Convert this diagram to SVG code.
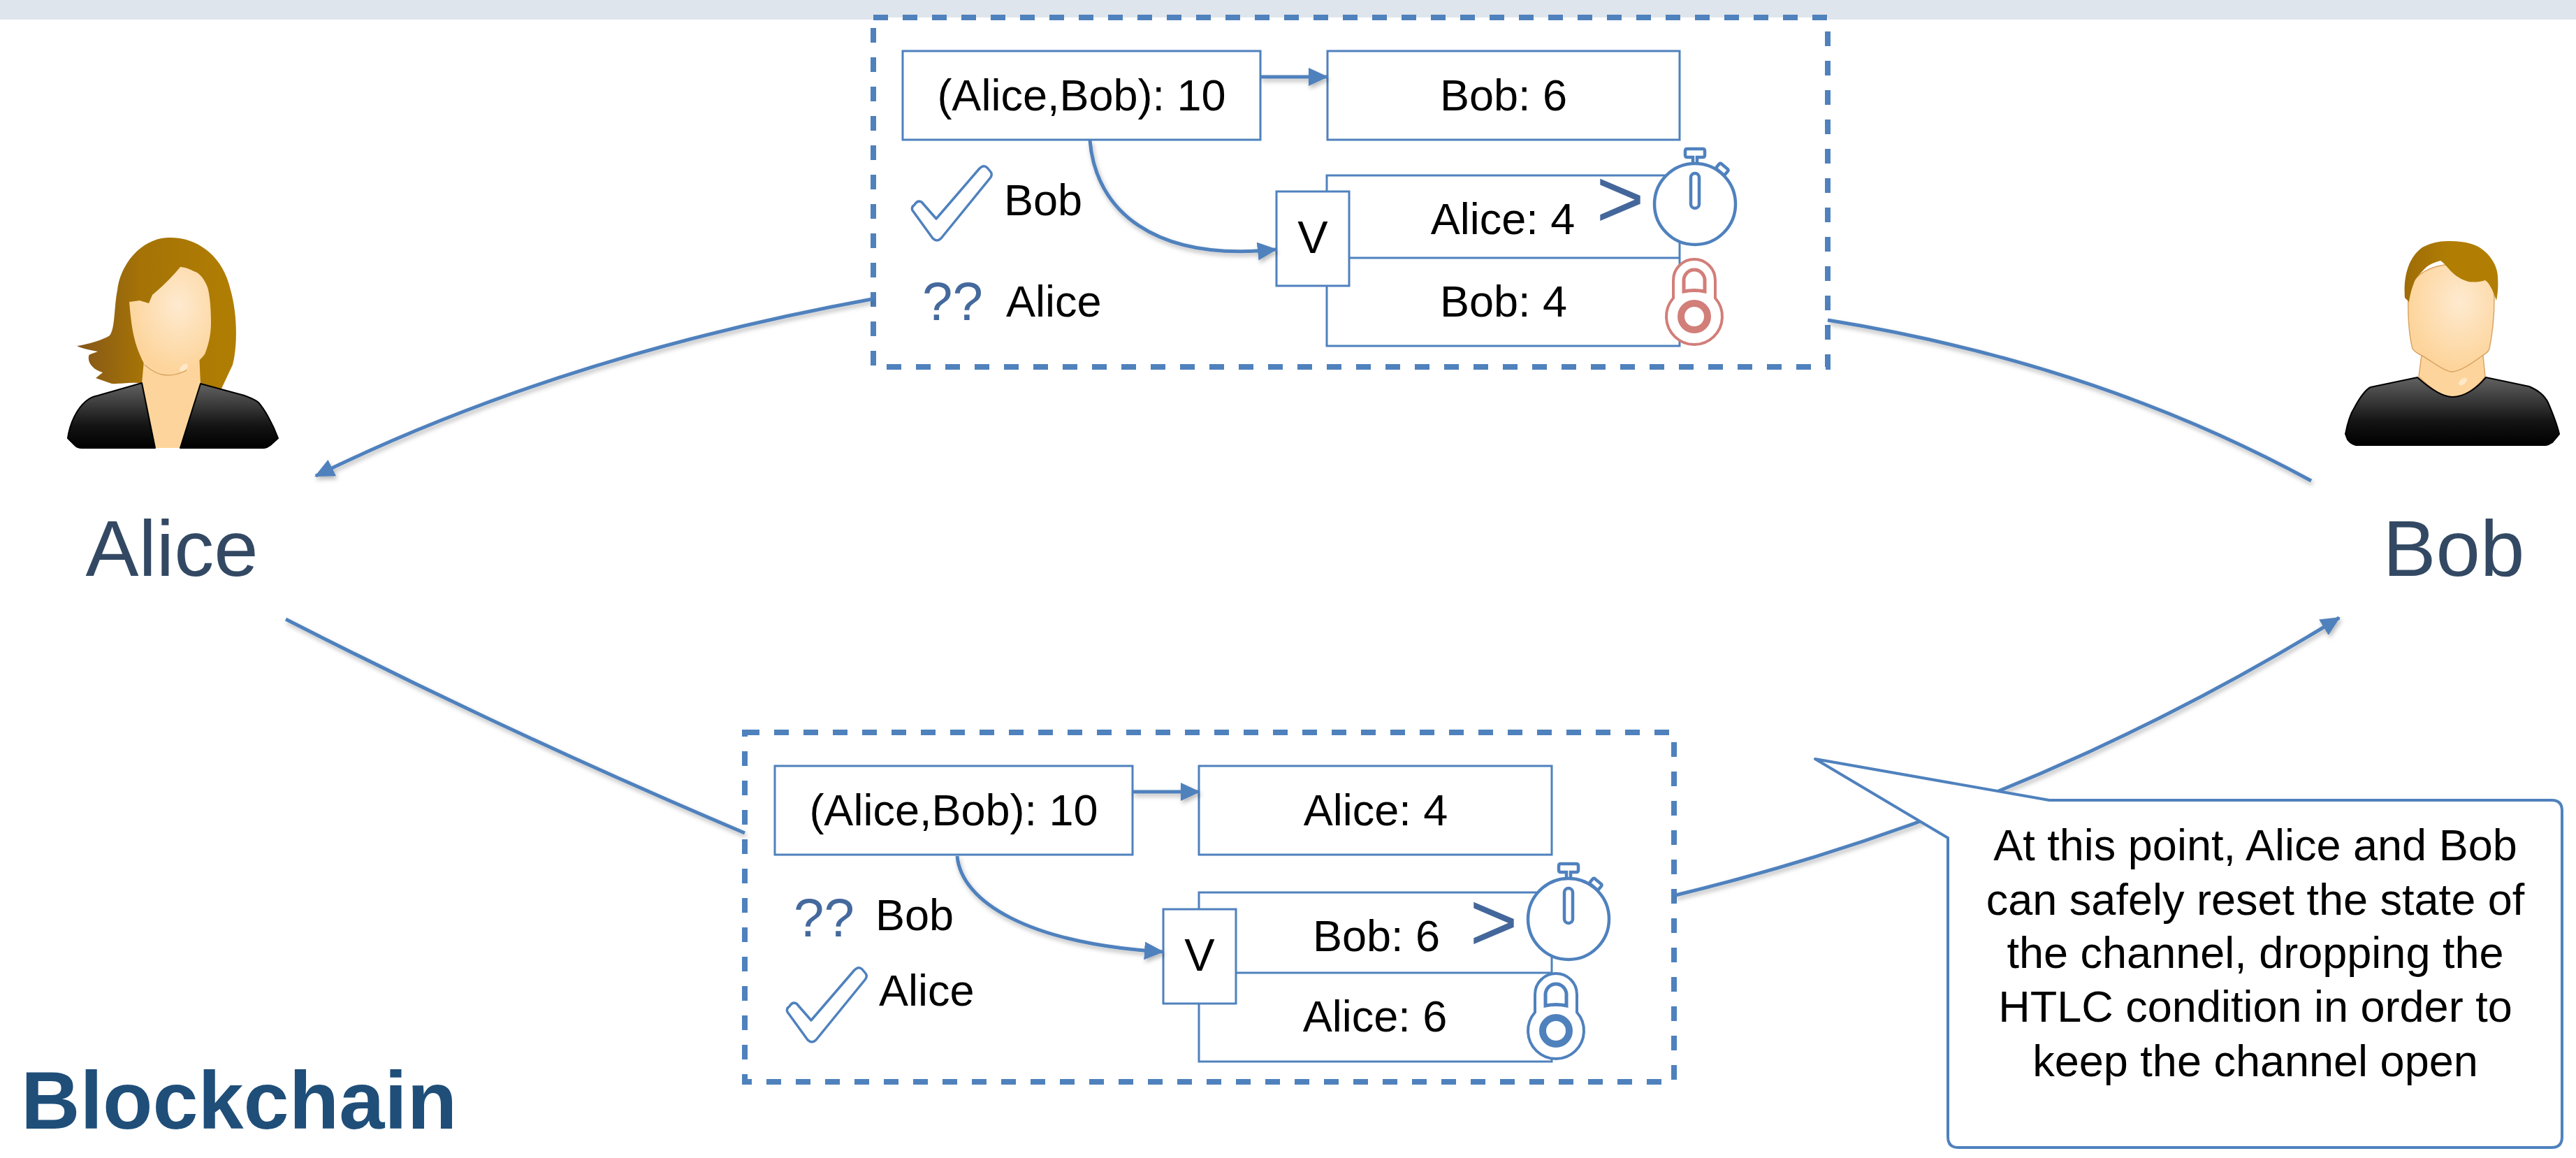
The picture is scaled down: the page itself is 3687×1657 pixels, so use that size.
<svg xmlns="http://www.w3.org/2000/svg" width="3687" height="1657" viewBox="0 0 3687 1657">
  <style>
    text { font-family: "Liberation Sans", Arial, Helvetica, sans-serif; }
    .cell { fill: #ffffff; stroke: #4f81bd; stroke-width: 3; }
    .frame { fill: #ffffff; stroke: #4f81bd; stroke-width: 8; stroke-dasharray: 21 21; }
    .lbl { font-size: 63px; fill: #000000; text-anchor: middle; }
    .side { font-size: 63px; fill: #000000; }
    .qq { font-size: 78px; fill: #44699c; }
    .gt { font-size: 118px; fill: #44679b; text-anchor: middle; }
    .vee { font-size: 65px; fill: #000000; text-anchor: middle; }
    .who { font-size: 114px; fill: #334963; text-anchor: middle; }
    .conn { fill: none; stroke: #4f81bd; stroke-width: 5; }
    .check { fill: #ffffff; stroke: #4f81bd; stroke-width: 3.5; stroke-linejoin: round; }
    .note { font-size: 63px; fill: #000000; text-anchor: middle; }
  </style>
  <defs>
    <marker id="ah" markerUnits="userSpaceOnUse" markerWidth="32" markerHeight="28" refX="26" refY="13" orient="auto">
      <path d="M0,0 L28,13 L0,26 Z" fill="#4f81bd"/>
    </marker>
    <filter id="shadow" filterUnits="userSpaceOnUse" x="0" y="0" width="3687" height="1657">
      <feDropShadow dx="2" dy="4" stdDeviation="3" flood-color="#000000" flood-opacity="0.28"/>
    </filter>
    <linearGradient id="suit" x1="0" y1="0" x2="0" y2="1">
      <stop offset="0" stop-color="#626262"/>
      <stop offset="0.65" stop-color="#141414"/>
      <stop offset="1" stop-color="#000000"/>
    </linearGradient>
    <radialGradient id="skin" cx="0.6" cy="0.35" r="0.6">
      <stop offset="0" stop-color="#feead0"/>
      <stop offset="1" stop-color="#fdd59c"/>
    </radialGradient>
    <linearGradient id="hairA" x1="0" y1="0" x2="1" y2="0">
      <stop offset="0" stop-color="#84561a"/>
      <stop offset="0.4" stop-color="#a57306"/>
      <stop offset="1" stop-color="#b17e03"/>
    </linearGradient>
    <linearGradient id="hairB" x1="0" y1="0" x2="1" y2="0">
      <stop offset="0" stop-color="#9e6c08"/>
      <stop offset="0.5" stop-color="#b17e03"/>
      <stop offset="1" stop-color="#b17e03"/>
    </linearGradient>
    <!-- stopwatch, centred on the dial -->
    <g id="watch" fill="#ffffff" stroke="#4f81bd" stroke-width="4.5">
      <rect x="-8" y="-5" width="16" height="10" rx="2" transform="translate(39,-50) rotate(40)"/>
      <path d="M-3,-56 V-67 H-11 Q-14,-67 -14,-70 V-76 Q-14,-79 -11,-79 H11 Q14,-79 14,-76 V-70 Q14,-67 11,-67 H3 V-56"/>
      <circle r="58"/>
      <rect x="-6" y="-44" width="12" height="50" rx="6"/>
    </g>
    <!-- padlock, centred on the body -->
    <g id="lock" fill="none">
      <path d="M-30,-26.5 V-52 A30,30 0 0 1 30,-52 V-26.5 A40,40 0 1 1 -30,-26.5 Z" fill="#ffffff" stroke-width="4"/>
      <path d="M-15,-36 V-52 A15,15 0 0 1 15,-52 V-36 Q0,-39 -15,-36 Z" stroke-width="5"/>
      <circle r="19" stroke-width="10"/>
    </g>
    <path id="tick" d="M1309,293 Q1313,286 1319,289 L1340,313 L1402,241 Q1408,235 1413,240 L1418,246 Q1421,250 1417,255 L1347,341 Q1341,347 1335,341 L1306,301 Q1304,296 1309,293 Z"/>
  </defs>

  <rect id="band" x="0" y="0" width="3687" height="28" fill="#dfe5ec"/>

  <!-- channel state published by Bob -->
  <g id="state-top">
    <rect class="frame" x="1250" y="25" width="1366" height="500"/>
    <rect class="cell" x="1292" y="73" width="512" height="127"/>
    <text class="lbl" x="1548" y="158">(Alice,Bob): 10</text>
    <rect class="cell" x="1900" y="73" width="504" height="127"/>
    <text class="lbl" x="2152" y="158">Bob: 6</text>
    <rect class="cell" x="1899" y="251" width="505" height="244"/>
    <line x1="1931" y1="369" x2="2404" y2="369" stroke="#4f81bd" stroke-width="3"/>
    <rect class="cell" x="1827" y="274" width="104" height="135"/>
    <text class="vee" x="1879" y="362">V</text>
    <text class="lbl" x="2151" y="335">Alice: 4</text>
    <text class="lbl" x="2152" y="453">Bob: 4</text>
    <text class="gt" x="2319" y="325">&gt;</text>
    <use href="#watch" x="2426" y="292"/>
    <use href="#lock" x="2425" y="453" stroke="#d27e79"/>
    <use href="#tick" class="check"/>
    <text class="side" x="1437" y="308">Bob</text>
    <text class="qq" x="1320" y="458">??</text>
    <text class="side" x="1440" y="453">Alice</text>
  </g>

  <!-- channel state published by Alice -->
  <g id="state-bottom">
    <rect class="frame" x="1066" y="1048" width="1330" height="500"/>
    <rect class="cell" x="1109" y="1096" width="512" height="127"/>
    <text class="lbl" x="1365" y="1181">(Alice,Bob): 10</text>
    <rect class="cell" x="1716" y="1096" width="505" height="127"/>
    <text class="lbl" x="1969" y="1181">Alice: 4</text>
    <rect class="cell" x="1716" y="1277" width="505" height="242"/>
    <line x1="1769" y1="1392" x2="2221" y2="1392" stroke="#4f81bd" stroke-width="3"/>
    <rect class="cell" x="1665" y="1301" width="104" height="135"/>
    <text class="vee" x="1717" y="1389">V</text>
    <text class="lbl" x="1970" y="1361">Bob: 6</text>
    <text class="lbl" x="1968" y="1476">Alice: 6</text>
    <text class="gt" x="2138" y="1360">&gt;</text>
    <use href="#watch" x="2245" y="1315"/>
    <use href="#lock" x="2227" y="1475" stroke="#4f81bd"/>
    <text class="qq" x="1136" y="1340">??</text>
    <text class="side" x="1253" y="1331">Bob</text>
    <use href="#tick" class="check" transform="translate(-179,1147)"/>
    <text class="side" x="1258" y="1439">Alice</text>
  </g>

  <!-- connectors -->
  <g id="connectors" filter="url(#shadow)">
    <path class="conn" d="M1804,110 H1899" marker-end="url(#ah)"/>
    <path class="conn" d="M1560,201 C1568,300 1650,375 1826,357" marker-end="url(#ah)"/>
    <path class="conn" d="M1621,1133 H1716" marker-end="url(#ah)"/>
    <path class="conn" d="M1370,1225 C1376,1290 1470,1350 1664,1362" marker-end="url(#ah)"/>
    <path class="conn" d="M1248,428 Q800,510 452,681" marker-end="url(#ah)"/>
    <path class="conn" d="M2616,458 Q3000,520 3308,688"/>
    <path class="conn" d="M409,886 Q730,1050 1066,1192"/>
    <path class="conn" d="M2398,1281 Q2900,1160 3348,884" marker-end="url(#ah)"/>
  </g>

  <!-- callout -->
  <g id="note">
    <path d="M2933,1145 H3652 Q3667,1145 3667,1160 V1627 Q3667,1642 3652,1642 H2803 Q2788,1642 2788,1627 V1199 L2598,1086 Z" fill="#ffffff" stroke="#4f81bd" stroke-width="4" stroke-linejoin="round"/>
    <text class="note" x="3228" y="1231">At this point, Alice and Bob</text>
    <text class="note" x="3228" y="1309">can safely reset the state of</text>
    <text class="note" x="3228" y="1385">the channel, dropping the</text>
    <text class="note" x="3228" y="1462">HTLC condition in order to</text>
    <text class="note" x="3228" y="1540">keep the channel open</text>
  </g>

  <!-- Alice -->
  <g id="alice">
    <path d="M240,340 C275,338 318,360 330,415 C340,450 340,495 333,522 L317,556 L203,549 C190,546 170,550 160,549 L137,541 L147,533 C135,530 125,520 127,510 C126,507 135,505 140,503 C125,500 115,498 110,495 C130,492 150,485 157,480 C165,470 163,440 168,415 C172,380 200,342 240,340 Z" fill="url(#hairA)"/>
    <path d="M207,505 L203,549 L222,641 L258,641 L287,549 L285,505 Z" fill="#fdd59c"/>
    <path d="M97,627 C100,605 110,585 123,574 C130,568 135,567 140,566 L203,548 L222,641 L117,641 C112,641 110,640 107,637 Z" fill="url(#suit)" stroke="#000000" stroke-width="2" stroke-linejoin="round"/>
    <path d="M258,641 L287,549 L350,566 C360,570 366,572 370,576 C378,585 390,605 398,627 L387,637 C383,640 380,641 377,641 Z" fill="url(#suit)" stroke="#000000" stroke-width="2" stroke-linejoin="round"/>
    <path d="M185,432 C188,465 190,490 207,522 C218,532 230,537 240,537 C255,537 262,532 267,530 C283,520 293,507 293,507 C300,490 302,475 302,461 C302,440 300,420 297,411 C292,398 285,390 277,388 C270,384 262,382 258,382 C245,398 230,412 218,422 L213,434 L200,430 Z" fill="url(#skin)"/>
    <path d="M207,522 C218,532 230,537 240,537 C255,537 262,532 267,530" fill="none" stroke="#d9a566" stroke-width="1.5"/>
    <ellipse cx="263" cy="526" rx="7" ry="4" fill="#ffffff" opacity="0.45" transform="rotate(-40 263 526)"/>
    <text class="who" x="246" y="824">Alice</text>
  </g>

  <!-- Bob -->
  <g id="bob">
    <path d="M3467,500 L3462,539 C3478,555 3495,568 3510,568 C3527,568 3545,555 3557,539 L3553,500 Z" fill="#fdd59c" stroke="#d9a566" stroke-width="1.5"/>
    <path d="M3357,621 C3360,605 3364,592 3370,583 C3377,570 3385,558 3393,554 L3460,540 C3478,556 3495,568 3510,568 C3527,568 3545,556 3558,540 L3620,553 C3632,558 3642,566 3647,576 C3653,590 3660,608 3663,621 L3653,633 C3650,635 3646,637 3643,637 L3372,637 C3367,636 3363,633 3360,629 Z" fill="url(#suit)" stroke="#000000" stroke-width="2" stroke-linejoin="round"/>
    <path d="M3447,426 C3446,450 3448,480 3453,499 C3458,505 3462,507 3467,509 C3485,520 3500,532 3510,532 C3525,530 3540,518 3553,509 C3558,506 3562,503 3563,499 C3567,480 3570,450 3570,426 C3570,400 3550,380 3510,378 C3470,380 3447,400 3447,426 Z" fill="url(#skin)" stroke="#d9a566" stroke-width="1.5"/>
    <path d="M3442,426 C3440,400 3445,370 3467,354 C3485,345 3495,345 3507,345 C3530,345 3545,350 3553,357 C3568,368 3575,385 3575,396 C3576,410 3575,420 3573,430 C3568,415 3563,405 3557,401 C3548,404 3540,404 3533,403 C3523,400 3515,395 3510,390 C3503,383 3498,376 3493,373 C3485,375 3478,378 3473,382 C3465,390 3457,398 3455,405 C3451,415 3449,425 3448,432 Z" fill="url(#hairB)"/>
    <ellipse cx="3525" cy="546" rx="7" ry="4" fill="#ffffff" opacity="0.45" transform="rotate(-40 3525 546)"/>
    <text class="who" x="3512" y="824">Bob</text>
  </g>

  <text id="title" x="30" y="1615" font-size="117" font-weight="bold" fill="#1f4e79">Blockchain</text>
</svg>
